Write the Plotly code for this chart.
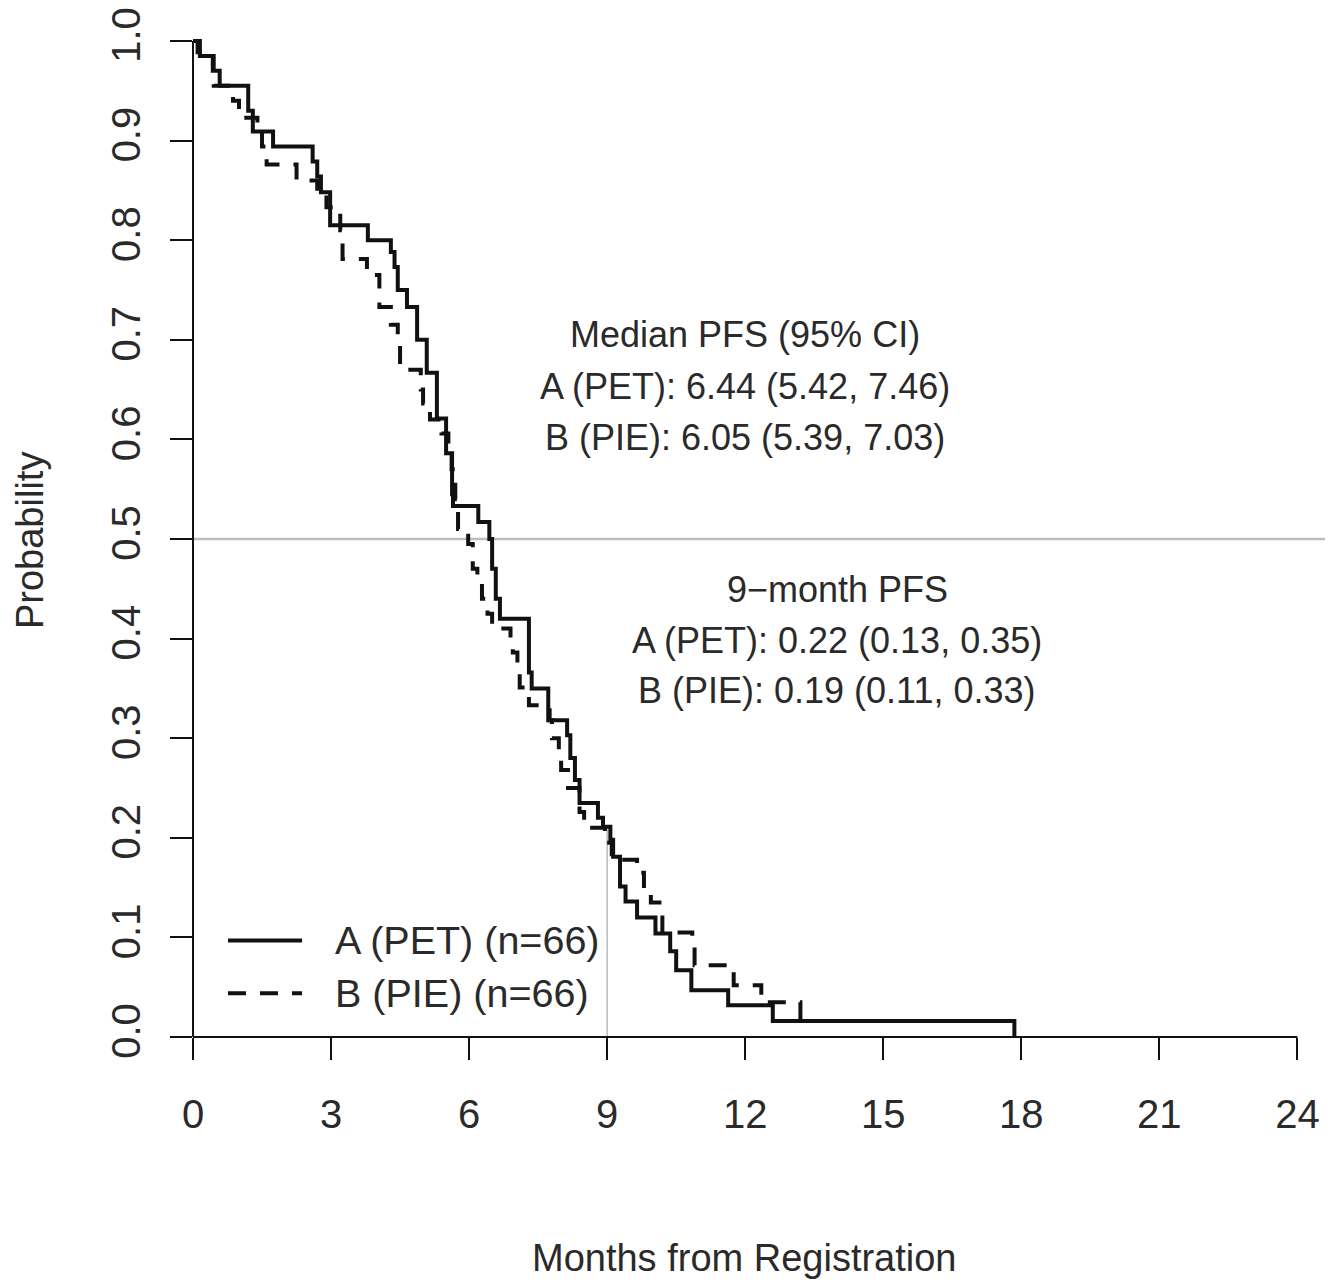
import plotly.graph_objects as go

# ---- data ----
a_time = [0, 0.15, 0.43, 0.58, 1.20, 1.30, 1.74, 2.60, 2.70, 2.78,
          2.98, 3.80, 4.30, 4.38, 4.45, 4.65, 4.87, 5.08, 5.30, 5.50,
          5.63, 5.65, 6.20, 6.44, 6.50, 6.58, 6.67, 7.30, 7.36, 7.72,
          8.13, 8.20, 8.30, 8.40, 8.80, 8.91, 9.07, 9.13, 9.28, 9.40,
          9.65, 10.05, 10.37, 10.50, 10.83, 11.63, 12.60, 17.85]
a_surv = [1.000, 0.985, 0.970, 0.955, 0.930, 0.909, 0.894, 0.879, 0.864, 0.848,
          0.815, 0.800, 0.788, 0.773, 0.750, 0.733, 0.700, 0.667, 0.621, 0.586,
          0.545, 0.533, 0.517, 0.500, 0.470, 0.440, 0.420, 0.366, 0.350, 0.318,
          0.303, 0.280, 0.258, 0.235, 0.220, 0.211, 0.198, 0.181, 0.151, 0.136,
          0.120, 0.104, 0.086, 0.067, 0.047, 0.032, 0.016, 0.000]

b_time = [0, 0.10, 0.45, 0.87, 1.00, 1.40, 1.50, 1.60, 2.25, 2.70,
          2.90, 3.20, 3.25, 3.78, 4.05, 4.30, 4.45, 4.50, 4.95, 5.00,
          5.15, 5.40, 5.55, 5.62, 5.70, 5.76, 5.98, 6.08, 6.18, 6.28,
          6.40, 6.50, 6.90, 6.95, 7.05, 7.10, 7.30, 7.75, 7.80, 7.95,
          8.00, 8.15, 8.40, 8.50, 8.95, 9.10, 9.65, 9.80, 9.95, 10.20,
          10.85, 10.90, 11.75, 12.35, 13.20]
b_surv = [1.000, 0.985, 0.955, 0.940, 0.923, 0.909, 0.894, 0.876, 0.860, 0.848,
          0.833, 0.810, 0.781, 0.765, 0.733, 0.715, 0.697, 0.670, 0.650, 0.636,
          0.620, 0.606, 0.585, 0.570, 0.540, 0.510, 0.495, 0.470, 0.455, 0.440,
          0.425, 0.410, 0.395, 0.386, 0.368, 0.351, 0.333, 0.318, 0.300, 0.288,
          0.268, 0.250, 0.226, 0.210, 0.195, 0.178, 0.165, 0.148, 0.135, 0.105,
          0.090, 0.072, 0.052, 0.035, 0.017]

x_ticks = [0, 3, 6, 9, 12, 15, 18, 21, 24]
y_ticks = [0.0, 0.1, 0.2, 0.3, 0.4, 0.5, 0.6, 0.7, 0.8, 0.9, 1.0]
y_tick_text = ["0.0", "0.1", "0.2", "0.3", "0.4", "0.5", "0.6", "0.7", "0.8", "0.9", "1.0"]

series_names = ["A (PET) (n=66)", "B (PIE) (n=66)"]
median_lines = ["Median PFS (95% CI)", "A (PET): 6.44 (5.42, 7.46)", "B (PIE): 6.05 (5.39, 7.03)"]
month9_lines = ["9\u2212month PFS", "A (PET): 0.22 (0.13, 0.35)", "B (PIE): 0.19 (0.11, 0.33)"]
landmark_month = 9
median_level = 0.5

FONT = "Liberation Sans, Arial, sans-serif"
TXT = "#2a2a2a"
INK = "#111111"
BODY = 8  # default page margin around the plot div


def step_value(times, surv, t):
    v = surv[0]
    for ti, si in zip(times, surv):
        if ti <= t:
            v = si
    return v


fig = go.Figure()
fig.add_trace(go.Scatter(x=b_time, y=b_surv, mode="lines", line_shape="hv",
                         line=dict(color=INK, width=4, dash="18px,14px"),
                         name=series_names[1], showlegend=False))
fig.add_trace(go.Scatter(x=a_time, y=a_surv, mode="lines", line_shape="hv",
                         line=dict(color=INK, width=4),
                         name=series_names[0], showlegend=False))

shapes = []
# reference lines
shapes.append(dict(type="line", xref="paper", x0=0, x1=1, yref="y",
                   y0=median_level, y1=median_level,
                   line=dict(color="#bdbdbd", width=2.5), layer="below"))
shapes.append(dict(type="line", xref="x", x0=landmark_month, x1=landmark_month, yref="y",
                   y0=0, y1=step_value(a_time, a_surv, landmark_month),
                   line=dict(color="#b8b8b8", width=1.5), layer="below"))
# R-style axis lines (between first and last tick)
shapes.append(dict(type="line", xref="x", x0=x_ticks[0], x1=x_ticks[-1], yref="paper",
                   y0=0, y1=0, line=dict(color=INK, width=2)))
shapes.append(dict(type="line", xref="paper", x0=0, x1=0, yref="y",
                   y0=y_ticks[0], y1=y_ticks[-1], line=dict(color=INK, width=2)))
# legend samples
shapes.append(dict(type="line", xref="x", x0=0.76, x1=2.37, yref="y", y0=0.097, y1=0.097,
                   line=dict(color=INK, width=4)))
shapes.append(dict(type="line", xref="x", x0=0.76, x1=2.37, yref="y", y0=0.044, y1=0.044,
                   line=dict(color=INK, width=4, dash="18px,14px")))

annotations = []
for i, t in enumerate(median_lines):
    annotations.append(dict(x=12.0, y=0.705 - 0.0515 * i, xref="x", yref="y", text=t,
                            showarrow=False, xanchor="center", yanchor="middle",
                            font=dict(family=FONT, size=36, color=TXT)))
for i, t in enumerate(month9_lines):
    annotations.append(dict(x=14.0, y=0.449 - 0.0505 * i, xref="x", yref="y", text=t,
                            showarrow=False, xanchor="center", yanchor="middle",
                            font=dict(family=FONT, size=36, color=TXT)))
for t, yy in zip(series_names, [0.097, 0.044]):
    annotations.append(dict(x=3.04, y=yy, xref="x", yref="y", text=t,
                            showarrow=False, xanchor="left", yanchor="middle",
                            font=dict(family=FONT, size=39.5, color=TXT)))
annotations.append(dict(x=0.4876, y=-0.2197, xref="paper", yref="paper",
                        text="Months from Registration", showarrow=False,
                        xanchor="center", yanchor="middle",
                        font=dict(family=FONT, size=38, color=TXT)))
annotations.append(dict(x=-0.144, y=0.494, xref="paper", yref="paper",
                        text="Probability", showarrow=False, textangle=-90,
                        xanchor="center", yanchor="middle",
                        font=dict(family=FONT, size=38, color=TXT)))

fig.update_layout(
    width=1336, height=1286,
    margin=dict(l=193 - BODY, r=11 + BODY, t=31 - BODY, b=249 + BODY, autoexpand=False),
    paper_bgcolor="white", plot_bgcolor="white",
    showlegend=False,
    shapes=shapes, annotations=annotations,
    xaxis=dict(range=[0, 24.6], tickmode="array", tickvals=x_ticks,
               ticks="outside", ticklen=22, tickwidth=2, tickcolor=INK,
               showgrid=False, zeroline=False, showline=False, automargin=False,
               tickfont=dict(family=FONT, size=40, color=TXT),
               ticklabelstandoff=20, ticklabeloverflow="allow"),
    yaxis=dict(range=[0, 1.01], tickmode="array", tickvals=y_ticks, ticktext=y_tick_text,
               tickangle=-90,
               ticks="outside", ticklen=22, tickwidth=2, tickcolor=INK,
               showgrid=False, zeroline=False, showline=False, automargin=False,
               tickfont=dict(family=FONT, size=40, color=TXT),
               ticklabelstandoff=14, ticklabeloverflow="allow"),
)

fig.write_html("out.html")
